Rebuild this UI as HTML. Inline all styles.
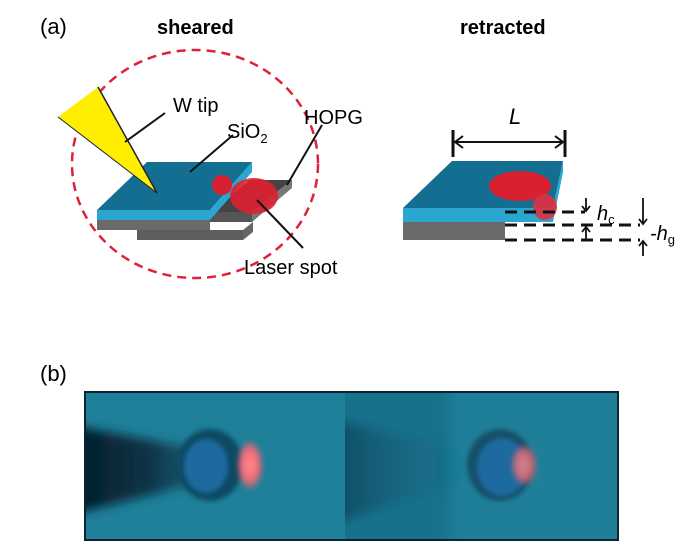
<!DOCTYPE html>
<html><head><meta charset="utf-8"><style>
body{margin:0;background:#fff;width:700px;height:553px;overflow:hidden}
text{font-family:"Liberation Sans",Arial,sans-serif}
</style></head><body>
<svg width="700" height="553" viewBox="0 0 700 553" xmlns="http://www.w3.org/2000/svg">
<defs>
<radialGradient id="sp" cx="50%" cy="50%" r="50%"><stop offset="0" stop-color="#ff8a8a"/><stop offset="0.6" stop-color="#f06a78"/><stop offset="1" stop-color="#f06070" stop-opacity="0"/></radialGradient>
<linearGradient id="tipL" x1="0" x2="1"><stop offset="0" stop-color="#041c28"/><stop offset="0.6" stop-color="#0a3446"/><stop offset="1" stop-color="#0a3a50" stop-opacity="0.5"/></linearGradient>
<linearGradient id="tipR" x1="0" x2="1"><stop offset="0" stop-color="#0c4a62"/><stop offset="1" stop-color="#1a6a85" stop-opacity="0"/></linearGradient>
<filter id="bl" x="-30%" y="-30%" width="160%" height="160%"><feGaussianBlur stdDeviation="5"/></filter>
<filter id="bl2" x="-30%" y="-30%" width="160%" height="160%"><feGaussianBlur stdDeviation="2.5"/></filter>
<clipPath id="ph"><rect x="85" y="392" width="533" height="148"/></clipPath>
<clipPath id="phR"><rect x="345" y="392" width="273" height="148"/></clipPath>
</defs>
<text x="40" y="34" font-size="22">(a)</text>
<text x="157" y="34" font-size="20" font-weight="bold">sheared</text>
<text x="460" y="34" font-size="20" font-weight="bold">retracted</text>

<ellipse cx="195" cy="164" rx="123" ry="114" fill="none" stroke="#e0203a" stroke-width="2.5" stroke-dasharray="9,6"/>
<polygon points="137,230 243,230 253,222 253,232 243,240 137,240" fill="#666"/>
<polygon points="210,212 250,180 292,180 252,212" fill="#444"/>
<polygon points="252,212 292,180 292,188 252,222" fill="#777"/>
<polygon points="210,212 252,212 252,222 210,222" fill="#555"/>
<rect x="97" y="220" width="113" height="10" fill="#6a6a6a"/>
<rect x="137" y="230" width="106" height="10" fill="#5e5e5e"/>
<polygon points="97,210 147,162 252,162 210,210" fill="#146e92"/>
<polygon points="97,210 210,210 210,220 97,220" fill="#2aa6d0"/>
<polygon points="210,210 252,162 252,172 210,220" fill="#2aa6d0"/>
<circle cx="222" cy="185" r="10" fill="#d82030"/>
<ellipse cx="254" cy="196" rx="24" ry="18" fill="#e02030" opacity="0.9"/>
<polygon points="58,117 98,87 157,193" fill="#ffee00"/>
<line x1="98" y1="87" x2="157" y2="193" stroke="#223" stroke-width="1.5"/>
<line x1="58" y1="117" x2="157" y2="193" stroke="#223" stroke-width="1"/>
<line x1="165" y1="113" x2="125" y2="142" stroke="#111" stroke-width="2"/>
<text x="173" y="112" font-size="20">W tip</text>
<line x1="233" y1="135" x2="190" y2="172" stroke="#111" stroke-width="2"/>
<text x="227" y="138" font-size="20">SiO<tspan font-size="13" dy="5">2</tspan></text>
<line x1="322" y1="125" x2="287" y2="185" stroke="#111" stroke-width="2"/>
<text x="304" y="124" font-size="20">HOPG</text>
<line x1="303" y1="248" x2="257" y2="200" stroke="#111" stroke-width="2"/>
<text x="244" y="274" font-size="20">Laser spot</text>

<text x="509" y="124" font-size="22" font-style="italic">L</text>
<line x1="453" y1="130" x2="453" y2="157" stroke="#111" stroke-width="3"/>
<line x1="565" y1="130" x2="565" y2="157" stroke="#111" stroke-width="3"/>
<line x1="455" y1="142" x2="563" y2="142" stroke="#111" stroke-width="2"/>
<polyline points="463,136 455,142 463,148" fill="none" stroke="#111" stroke-width="2"/>
<polyline points="555,136 563,142 555,148" fill="none" stroke="#111" stroke-width="2"/>
<polygon points="403,222 505,222 505,240 403,240" fill="#6a6a6a"/>
<polygon points="403,208 452,161 563,161 553,208" fill="#146e92"/>
<polygon points="403,208 553,208 553,222 403,222" fill="#2aa6d0"/>
<polygon points="553,208 563,161 563,172 553,222" fill="#2aa6d0"/>
<ellipse cx="520" cy="186" rx="31" ry="15" fill="#d82030"/>
<ellipse cx="545" cy="207" rx="12" ry="13" fill="#e03040" opacity="0.9"/>
<g stroke="#111" stroke-width="3" stroke-dasharray="12,7">
<line x1="505" y1="212" x2="585" y2="212"/>
<line x1="505" y1="225" x2="640" y2="225"/>
<line x1="505" y1="240" x2="640" y2="240"/>
</g>
<g stroke="#111" stroke-width="1.8" fill="none">
<line x1="586" y1="198" x2="586" y2="211"/><polyline points="582,206 586,211 590,206"/>
<line x1="586" y1="240" x2="586" y2="227"/><polyline points="582,232 586,227 590,232"/>
<line x1="643" y1="198" x2="643" y2="224"/><polyline points="639,219 643,224 647,219"/>
<line x1="643" y1="256" x2="643" y2="241"/><polyline points="639,246 643,241 647,246"/>
</g>
<text x="597" y="220" font-size="20" font-style="italic">h<tspan font-size="13" dy="4" font-style="normal">c</tspan></text>
<text x="650" y="240" font-size="20" font-style="italic">-h<tspan font-size="13" dy="4" font-style="normal">g</tspan></text>

<text x="40" y="381" font-size="22">(b)</text>
<g clip-path="url(#ph)">
<rect x="85" y="392" width="533" height="148" fill="#1f8099"/>
<polygon points="70,425 150,440 200,450 200,482 150,495 70,515" fill="url(#tipL)" filter="url(#bl)"/>
<ellipse cx="210" cy="465" rx="33" ry="36" fill="#0f4a62" filter="url(#bl2)"/>
<ellipse cx="206" cy="466" rx="22" ry="27" fill="#1a6aa0" filter="url(#bl2)"/>
<ellipse cx="250" cy="465" rx="14" ry="26" fill="url(#sp)" filter="url(#bl2)"/>
</g>
<g clip-path="url(#phR)">
<rect x="345" y="392" width="273" height="148" fill="#1f7f98"/>
<rect x="330" y="380" width="120" height="175" fill="#0f5a74" opacity="0.35" filter="url(#bl)"/>
<polygon points="330,418 420,440 470,450 470,485 420,495 330,525" fill="url(#tipR)" filter="url(#bl)"/>
<ellipse cx="500" cy="465" rx="33" ry="36" fill="#124f68" filter="url(#bl2)"/>
<ellipse cx="502" cy="467" rx="25" ry="29" fill="#1a6aa0" filter="url(#bl2)"/>
<ellipse cx="524" cy="465" rx="14" ry="22" fill="url(#sp)" opacity="0.8" filter="url(#bl2)"/>
</g>
<rect x="85" y="392" width="533" height="148" fill="none" stroke="#0a2430" stroke-width="2"/>
</svg>
</body></html>
